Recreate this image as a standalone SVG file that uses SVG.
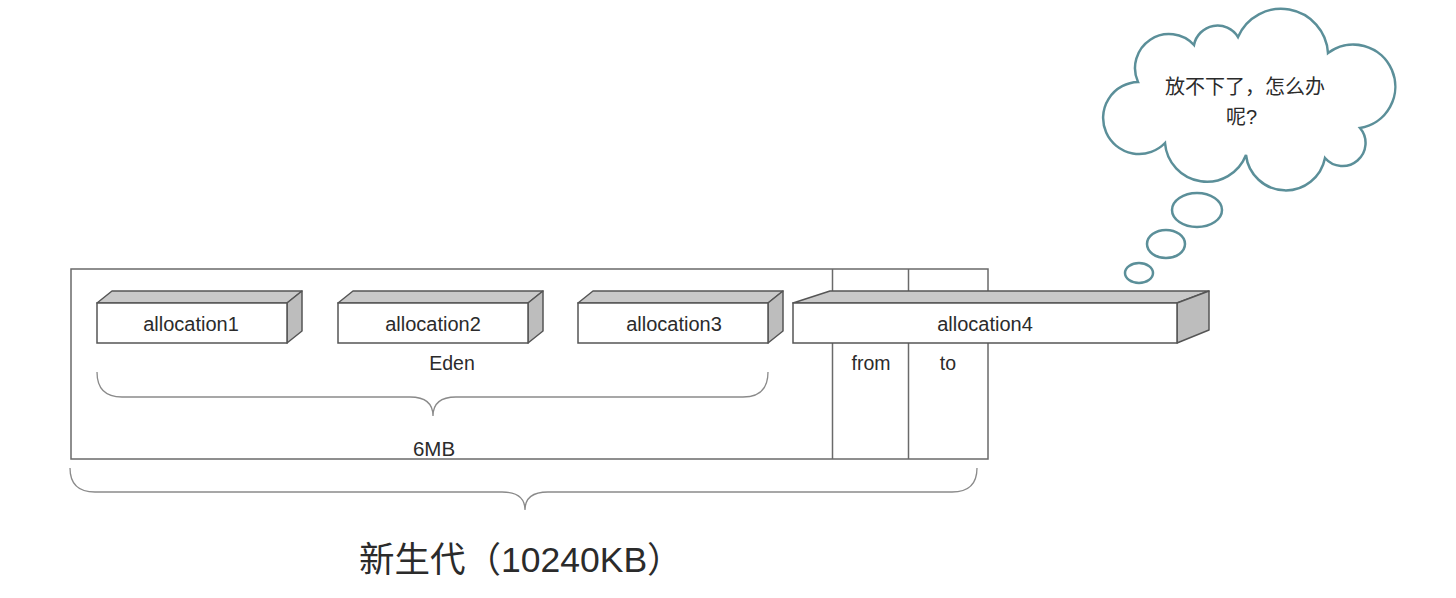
<svg xmlns="http://www.w3.org/2000/svg" width="1456" height="598" viewBox="0 0 1456 598">
<style>
.txt{font-family:"Liberation Sans",Arial,"Noto Sans CJK SC",sans-serif;fill:#2b2b2b;}
.front{fill:#fff;stroke:#555;stroke-width:1.5;}
.top{fill:#c9c9c9;stroke:#555;stroke-width:1.5;stroke-linejoin:round;}
.side{fill:#bdbdbd;stroke:#555;stroke-width:1.5;stroke-linejoin:round;}
.frame{fill:none;stroke:#6a6a6a;stroke-width:1.5;}
.brace{fill:none;stroke:#8a8a8a;stroke-width:1.3;}
.cloud{fill:#fff;stroke:#5b8f99;stroke-width:2.5;}
</style>
<rect width="1456" height="598" fill="#fff"/>

<g id="young-gen">
  <rect class="frame" x="71" y="269" width="917" height="190"/>
  <line class="frame" x1="832.5" y1="269" x2="832.5" y2="459"/>
  <line class="frame" x1="908.5" y1="269" x2="908.5" y2="459"/>
  <text class="txt" x="452" y="370" font-size="19.5" text-anchor="middle">Eden</text>
  <text class="txt" x="871" y="370" font-size="19.5" text-anchor="middle">from</text>
  <text class="txt" x="948" y="370" font-size="19.5" text-anchor="middle">to</text>
  <text class="txt" x="434" y="456" font-size="20.5" text-anchor="middle">6MB</text>
</g>

<g id="braces">
  <path class="brace" d="M97 372 Q97 397 122 397 L410 397 Q433 397 433 416 Q433 397 456 397 L743 397 Q768 397 768 372"/>
  <path class="brace" d="M70 468 Q70 492 95 492 L502 492 Q525 492 525 510 Q525 492 548 492 L952 492 Q977 492 977 468"/>
</g>

<g id="allocation1">
  <polygon class="top" points="97,303 112,291 302,291 287,303"/>
  <polygon class="side" points="287,303 302,291 302,331 287,343"/>
  <rect class="front" x="97" y="303" width="190" height="40"/>
  <text class="txt" x="191" y="331" font-size="20" text-anchor="middle">allocation1</text>
</g>
<g id="allocation2">
  <polygon class="top" points="338,303 353,291 543,291 528,303"/>
  <polygon class="side" points="528,303 543,291 543,331 528,343"/>
  <rect class="front" x="338" y="303" width="190" height="40"/>
  <text class="txt" x="433" y="331" font-size="20" text-anchor="middle">allocation2</text>
</g>
<g id="allocation3">
  <polygon class="top" points="578,303 593,291 783,291 768,303"/>
  <polygon class="side" points="768,303 783,291 783,331 768,343"/>
  <rect class="front" x="578" y="303" width="190" height="40"/>
  <text class="txt" x="674" y="331" font-size="20" text-anchor="middle">allocation3</text>
</g>
<g id="allocation4">
  <polygon class="top" points="793,303 830,291 1209,291 1177,303"/>
  <polygon class="side" points="1177,303 1209,291 1209,330 1177,343"/>
  <rect class="front" x="793" y="303" width="384" height="40"/>
  <text class="txt" x="985" y="331" font-size="20" text-anchor="middle">allocation4</text>
</g>

<g id="thought-cloud">
  <path class="cloud" d="M1138 82 A34 34 0 0 1 1194 45 A24 24 0 0 1 1238 37 A47 47 0 0 1 1328 53 A42 42 0 1 1 1360 128 A23 23 0 0 1 1325 158 A40 40 0 0 1 1246 155 A42 42 0 0 1 1165 143 A36 36 0 1 1 1138 82 Z"/>
  <ellipse class="cloud" cx="1197" cy="210" rx="25" ry="17"/>
  <ellipse class="cloud" cx="1166" cy="244" rx="19" ry="14"/>
  <ellipse class="cloud" cx="1139" cy="273" rx="14" ry="10"/>
  <text class="txt" x="1165" y="94" font-size="20">放不下了，怎么办</text>
  <text class="txt" x="1226" y="124" font-size="20">呢?</text>
</g>

<g id="title">
  <text class="txt" x="359" y="572" font-size="35.5">新生代（10240KB）</text>
</g>
</svg>
